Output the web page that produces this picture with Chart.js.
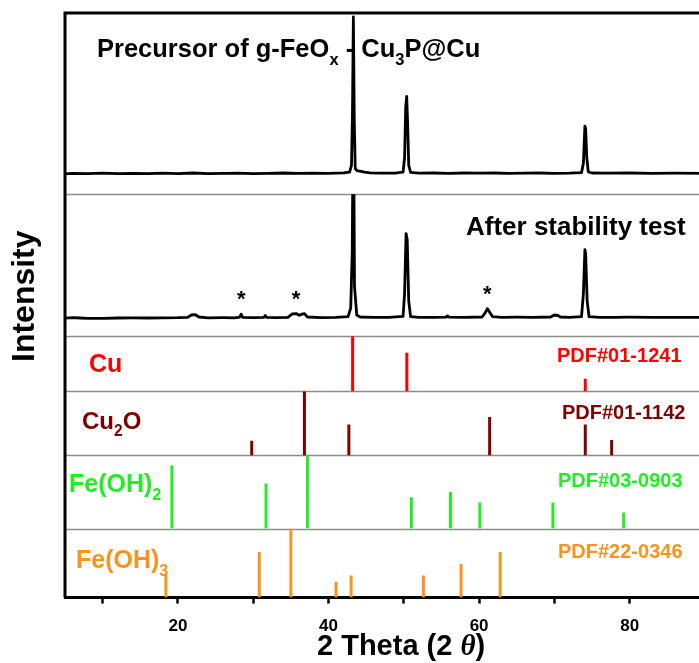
<!DOCTYPE html>
<html>
<head>
<meta charset="utf-8">
<script src="https://cdn.jsdelivr.net/npm/chart.js@4.4.1/dist/chart.umd.min.js"></script>
<style>
  html, body { margin: 0; padding: 0; background: #fff; }
  #wrap { width: 699px; height: 663px; overflow: hidden; }
</style>
</head>
<body>
<div id="wrap"><canvas id="xrdChart" width="718" height="663" style="width:718px;height:663px"></canvas></div>
<script>
// XRD pattern of the precursor (top panel)
const preTheta = [5, 6, 8, 10, 12, 14, 16, 18, 20, 22, 24, 26, 28, 30, 32, 34, 36, 38, 40, 42, 42.8,
  43.05, 43.18, 43.3, 43.42, 43.55, 43.8, 44.3, 44.8, 45.5, 47, 49, 49.9, 50.1, 50.25, 50.38,
  50.5, 50.65, 50.9, 52, 54, 56, 58, 60, 62, 64, 66, 68, 70, 72, 73.6, 73.85, 74.05, 74.15, 74.3, 74.5,
  75, 77, 80, 83, 86, 90];
const preInt = [11.2, 11.5, 11.3, 11.6, 11.4, 11.5, 11.3, 11.6, 11.4, 11.7, 11.4, 11.5, 11.6, 11.4, 11.5, 11.7, 11.5, 11.6, 11.5, 11.8, 12.2,
  16, 45, 97.8, 40, 14, 13, 12.6, 12.2, 11.8, 11.6, 11.7, 12.2, 20, 48, 54,
  40, 16, 12, 11.6, 11.7, 11.5, 11.7, 11.6, 11.7, 11.5, 11.6, 11.7, 11.5, 11.6, 11.9, 17, 37.6, 36, 20, 12.3,
  11.7, 11.6, 11.7, 11.5, 11.6, 11.5];

// XRD pattern after the stability test (second panel)
const postTheta = [5, 6, 7, 8, 10, 12, 14, 16, 18, 20, 21.3, 21.8, 22.3, 22.8, 24, 26, 27.5, 28.2, 28.4, 28.6,
  30, 31.4, 31.6, 31.8, 33, 34.6, 35.2, 35.7, 36.1, 36.5, 36.8, 37.2, 39, 41, 42.6, 42.95, 43.15, 43.3,
  43.45, 43.75, 44.2, 46, 48, 49.9, 50.1, 50.3, 50.45, 50.65, 50.9, 52, 54, 55.6, 55.8, 56, 58,
  60.4, 60.8, 61.1, 61.4, 61.8, 63, 65, 67, 69.5, 70.0, 70.4, 70.8, 72, 73.6, 73.85, 74.05, 74.15, 74.35,
  74.6, 76, 78, 80, 83, 86, 90];
const postInt = [12.8, 13.1, 12.9, 12.6, 12.7, 12.9, 13.0, 12.9, 13.0, 13.1, 13.4, 15.0, 15.2, 13.6, 13.0, 13.1, 13.0, 13.5, 15.6, 13.4,
  13.1, 13.3, 14.6, 13.3, 13.1, 13.4, 15.8, 16.0, 14.8, 15.6, 16.0, 13.6, 13.2, 13.3, 13.8, 20, 60, 175,
  35, 15, 13.6, 13.3, 13.4, 14, 30, 72.3, 68, 25, 13.8, 13.3, 13.4, 13.5, 14.4, 13.5, 13.4,
  13.6, 16.5, 19.5, 17, 13.8, 13.4, 13.5, 13.4, 13.6, 15, 14.8, 13.6, 13.4, 13.8, 30, 61, 58, 25,
  13.8, 13.3, 13.4, 13.5, 13.3, 13.4, 13.3];

// impurity peaks marked with *
const starTheta = [28.4, 35.7, 61.1];

// reference cards (stick patterns)
const cuTheta = [43.2, 50.4, 74.1];
const cuInt = [100, 55, 18];
const cu2oTheta = [29.8, 36.8, 42.7, 61.4, 74.1, 77.6];
const cu2oInt = [21, 100, 44, 55, 44, 22];
const fe2Theta = [19.2, 31.7, 37.2, 51.0, 56.2, 60.1, 69.8, 79.2];
const fe2Int = [83, 59, 100, 41, 48, 34, 34, 21];
const fe3Theta = [18.4, 30.8, 35.0, 41.0, 43.0, 52.6, 57.6, 62.8];
const fe3Int = [34, 66, 100, 23, 32, 32, 49, 66];

const FONT = '"Liberation Sans", Arial, sans-serif';

function toPoints(xs, ys) {
  return xs.map((x, i) => ({ x: x, y: ys[i] }));
}
function toSticks(xs, ys) {
  const pts = [];
  xs.forEach((x, i) => {
    pts.push({ x: x, y: 0 }, { x: x, y: ys[i] }, { x: x, y: null });
  });
  return pts;
}

function drawRich(ctx, parts, x, y, size, color) {
  ctx.save();
  ctx.fillStyle = color;
  ctx.textBaseline = 'alphabetic';
  ctx.textAlign = 'left';
  let cx = x;
  parts.forEach(([txt, kind]) => {
    if (kind === 's') ctx.font = 'bold ' + (size * 0.65) + 'px ' + FONT;
    else if (kind === 'i') ctx.font = 'italic bold ' + size + 'px "Liberation Serif", serif';
    else ctx.font = 'bold ' + size + 'px ' + FONT;
    ctx.fillText(txt, cx, kind === 's' ? y + size * 0.32 : y);
    cx += ctx.measureText(txt).width;
  });
  ctx.restore();
}

const panelIds = ['yPre', 'yPost', 'yCu', 'yCu2O', 'yFe2', 'yFe3'];

const decorations = {
  id: 'decorations',
  beforeDatasetsDraw(chart) {
    const { ctx, chartArea } = chart;
    ctx.save();
    ctx.strokeStyle = '#8c8c8c';
    ctx.lineWidth = 1.5;
    panelIds.slice(1).forEach(id => {
      const y = Math.round(chart.scales[id].top) + 0.5;
      ctx.beginPath();
      ctx.moveTo(chartArea.left, y);
      ctx.lineTo(chartArea.right, y);
      ctx.stroke();
    });
    ctx.restore();
  },
  afterDatasetsDraw(chart) {
    const { ctx } = chart;
    const xs = chart.scales.x;
    const yPost = chart.scales.yPost;

    drawRich(ctx, [['Precursor of g-FeO'], ['x', 's'], [' - Cu'], ['3', 's'], ['P@Cu']], 97, 56.5, 25.5, '#000');
    drawRich(ctx, [['After stability test']], 466, 235, 26, '#000');

    // asterisks above the impurity peaks
    ctx.save();
    ctx.fillStyle = '#000';
    ctx.font = 'bold 22px ' + FONT;
    ctx.textAlign = 'center';
    ctx.textBaseline = 'alphabetic';
    starTheta.forEach(t => {
      let top = 0;
      postTheta.forEach((x, i) => { if (Math.abs(x - t) < 0.6) top = Math.max(top, postInt[i]); });
      ctx.fillText('*', xs.getPixelForValue(t), yPost.getPixelForValue(top) - 8);
    });
    ctx.restore();

    drawRich(ctx, [['Cu']], 89, 372, 25, '#ff0000');
    drawRich(ctx, [['Cu'], ['2', 's'], ['O']], 82, 428.5, 24, '#7f0000');
    drawRich(ctx, [['Fe(OH)'], ['2', 's']], 69, 491.5, 25, '#22ee22');
    drawRich(ctx, [['Fe(OH)'], ['3', 's']], 76, 568, 25, '#f7941d');

    drawRich(ctx, [['PDF#01-1241']], 557, 362.3, 20, '#ff0000');
    drawRich(ctx, [['PDF#01-1142']], 562, 419.3, 20, '#7f0000');
    drawRich(ctx, [['PDF#03-0903']], 558, 487.3, 20, '#22ee22');
    drawRich(ctx, [['PDF#22-0346']], 558, 558.3, 20, '#f7941d');
  },
  afterDraw(chart) {
    const { ctx, chartArea } = chart;
    ctx.save();
    ctx.strokeStyle = '#000';
    ctx.lineWidth = 3;
    ctx.beginPath();
    ctx.moveTo(chartArea.left, chartArea.bottom);
    ctx.lineTo(chartArea.left, chartArea.top);
    ctx.lineTo(chartArea.right, chartArea.top);
    ctx.stroke();
    ctx.restore();

    // y axis title
    ctx.save();
    ctx.translate(34, 362);
    ctx.rotate(-Math.PI / 2);
    drawRich(ctx, [['Intensity']], 0, 0, 32, '#000');
    ctx.restore();

    // x axis title
    drawRich(ctx, [['2 Theta (2 '], ['\u03B8', 'i'], [')']], 317, 655, 29, '#000');
  }
};

function curve(data, yAxisID, color, width) {
  return {
    type: 'line', data: data, yAxisID: yAxisID,
    borderColor: color, borderWidth: width, pointRadius: 0, tension: 0,
    spanGaps: false, borderCapStyle: 'butt', borderJoinStyle: 'round'
  };
}

const ctx = document.getElementById('xrdChart').getContext('2d');
new Chart(ctx, {
  type: 'line',
  data: {
    datasets: [
      curve(toPoints(preTheta, preInt), 'yPre', '#000', 2.8),
      curve(toPoints(postTheta, postInt), 'yPost', '#000', 2.8),
      curve(toSticks(cuTheta, cuInt), 'yCu', '#ff0000', 3),
      curve(toSticks(cu2oTheta, cu2oInt), 'yCu2O', '#800000', 3),
      curve(toSticks(fe2Theta, fe2Int), 'yFe2', '#22ee22', 3),
      curve(toSticks(fe3Theta, fe3Int), 'yFe3', '#f7941d', 3)
    ]
  },
  options: {
    responsive: false,
    animation: false,
    events: [],
    layout: { padding: { left: 65, top: 13, right: 2, bottom: 13 } },
    plugins: { legend: { display: false }, tooltip: { enabled: false } },
    scales: {
      x: {
        type: 'linear', min: 5, max: 90,
        ticks: {
          stepSize: 10, includeBounds: false, autoSkip: false, maxRotation: 0, padding: 13,
          color: '#000', font: { family: FONT, size: 17, weight: 'bold' },
          callback: v => (v % 20 === 0 && v < 90) ? v : ''
        },
        grid: { display: true, drawOnChartArea: false, drawTicks: true, tickLength: 6, tickWidth: 2.5, tickColor: '#000' },
        border: { display: true, color: '#000', width: 3 }
      },
      yPre:  { display: false, stack: 'xrd', stackWeight: 181, weight: 6, min: 0, max: 100 },
      yPost: { display: false, stack: 'xrd', stackWeight: 142, weight: 5, min: 0, max: 100 },
      yCu:   { display: false, stack: 'xrd', stackWeight: 55, weight: 4, min: 0, max: 78.6 },
      yCu2O: { display: false, stack: 'xrd', stackWeight: 64, weight: 3, min: 0, max: 91.4 },
      yFe2:  { display: false, stack: 'xrd', stackWeight: 73, weight: 2, min: 0, max: 95.7 },
      yFe3:  { display: false, stack: 'xrd', stackWeight: 69, weight: 1, min: 0, max: 100 }
    }
  },
  plugins: [decorations]
});
</script>
</body>
</html>
